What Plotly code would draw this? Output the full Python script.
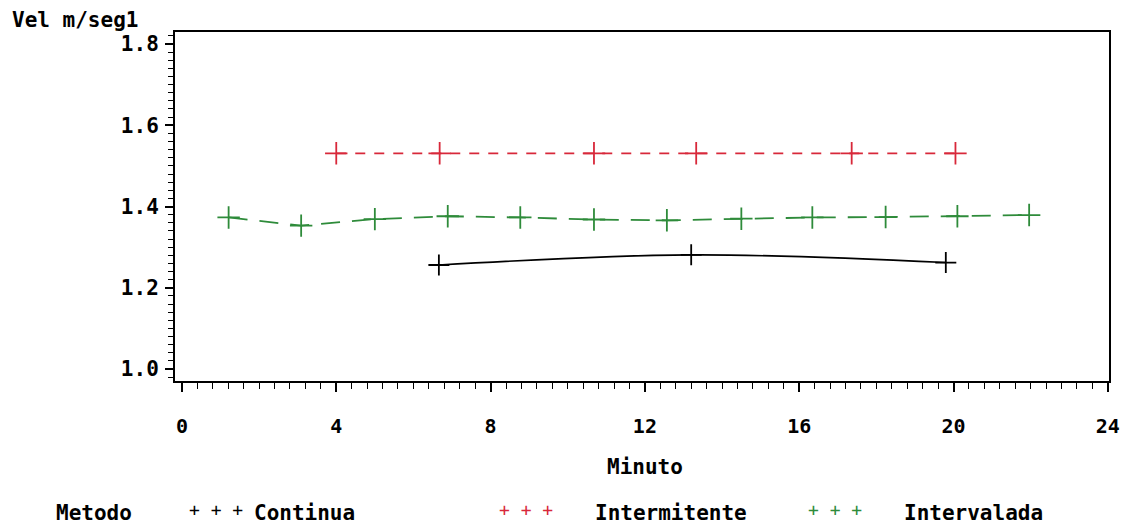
import plotly.graph_objects as go

# ---- data ----
cont_x = [6.66, 13.2, 19.8]
cont_y = [1.256, 1.281, 1.262]

inter_x = [4.0, 6.68, 10.68, 13.33, 17.36, 20.05]
inter_y = [1.531, 1.531, 1.531, 1.531, 1.531, 1.531]

intv_x = [1.21, 3.09, 5.0, 6.89, 8.77, 10.68, 12.57, 14.5, 16.34, 18.24, 20.1, 21.96]
intv_y = [1.373, 1.353, 1.369, 1.376, 1.373, 1.368, 1.366, 1.370, 1.373, 1.374, 1.376, 1.379]

x_ticks = [0, 4, 8, 12, 16, 20, 24]
y_ticks = [1.0, 1.2, 1.4, 1.6, 1.8]

FONT = "DejaVu Sans Mono"
OFF = 8  # page body margin
W, H = 1132 - OFF, 525 - OFF
# plot frame in screen pixels
L, R, T, B = 175, 1113, 32, 381


def px(x):
    return (x - L) / (R - L)


def py(y):
    return (B - y) / (B - T)


fig = go.Figure()
fig.add_trace(go.Scatter(
    x=cont_x, y=cont_y, mode="lines+markers", name="Continua",
    line=dict(color="black", width=1.6, shape="spline", smoothing=1.0),
    marker=dict(symbol="cross-thin", size=15, line=dict(color="black", width=1.8)),
))
fig.add_trace(go.Scatter(
    x=inter_x, y=inter_y, mode="lines+markers", name="Intermitente",
    line=dict(color="#d8283a", width=1.8, dash="10px,9px"),
    marker=dict(symbol="cross-thin", size=16, line=dict(color="#d8283a", width=1.8)),
))
fig.add_trace(go.Scatter(
    x=intv_x, y=intv_y, mode="lines+markers", name="Intervalada",
    line=dict(color="#2e8b3a", width=1.8, dash="19px,12px"),
    marker=dict(symbol="cross-thin", size=16, line=dict(color="#2e8b3a", width=1.8)),
))

TXT = 21
ann = []
ann.append(dict(text="<b>Vel m/seg1</b>", x=px(9), y=py(20), xref="paper", yref="paper",
                xanchor="left", yanchor="middle", showarrow=False,
                font=dict(family=FONT, size=TXT, color="black")))
ann.append(dict(text="<b>Minuto</b>", x=px(647), y=py(467), xref="paper", yref="paper",
                xanchor="center", yanchor="middle", showarrow=False,
                font=dict(family=FONT, size=TXT, color="black")))
ann.append(dict(text="<b>Metodo</b>", x=px(53), y=py(513), xref="paper", yref="paper",
                xanchor="left", yanchor="middle", showarrow=False,
                font=dict(family=FONT, size=TXT, color="black")))
legend_items = [("Continua", "black", 187, 252),
                ("Intermitente", "#d8283a", 498, 595),
                ("Intervalada", "#2e8b3a", 809, 905)]
for name, col, xs, xt in legend_items:
    ann.append(dict(text="+ + +", x=px(xs), y=py(509), xref="paper", yref="paper",
                    xanchor="left", yanchor="middle", showarrow=False,
                    font=dict(family=FONT, size=18, color=col)))
    ann.append(dict(text="<b>" + name + "</b>", x=px(xt), y=py(513), xref="paper", yref="paper",
                    xanchor="left", yanchor="middle", showarrow=False,
                    font=dict(family=FONT, size=TXT, color="black")))

fig.update_layout(
    width=W, height=H,
    margin=dict(l=L - OFF, r=1132 - R, t=T - OFF, b=525 - B),
    paper_bgcolor="white", plot_bgcolor="white",
    showlegend=False,
    annotations=ann,
    xaxis=dict(
        range=[-0.18, 24.03], tickmode="array", tickvals=x_ticks,
        ticktext=["<b>%d</b>" % v for v in x_ticks],
        showgrid=False, zeroline=False,
        showline=True, linecolor="black", linewidth=2, mirror=True,
        ticks="outside", ticklen=9, tickwidth=1.5, tickcolor="black",
        ticklabelstandoff=17,
        tickfont=dict(family=FONT, size=20, color="black"),
        minor=dict(dtick=0.4, tick0=0, ticks="outside", ticklen=6, tickwidth=1.2, tickcolor="black", showgrid=False),
    ),
    yaxis=dict(
        range=[0.9705, 1.8295], tickmode="array", tickvals=y_ticks,
        ticktext=["<b>%.1f</b>" % v for v in y_ticks],
        showgrid=False, zeroline=False,
        showline=True, linecolor="black", linewidth=2, mirror=True,
        ticks="outside", ticklen=8, tickwidth=1.5, tickcolor="black",
        ticklabelstandoff=2,
        tickfont=dict(family=FONT, size=21, color="black"),
        minor=dict(dtick=0.02, tick0=1.0, ticks="outside", ticklen=5, tickwidth=1.2, tickcolor="black", showgrid=False),
    ),
)

fig.write_html("out.html")
